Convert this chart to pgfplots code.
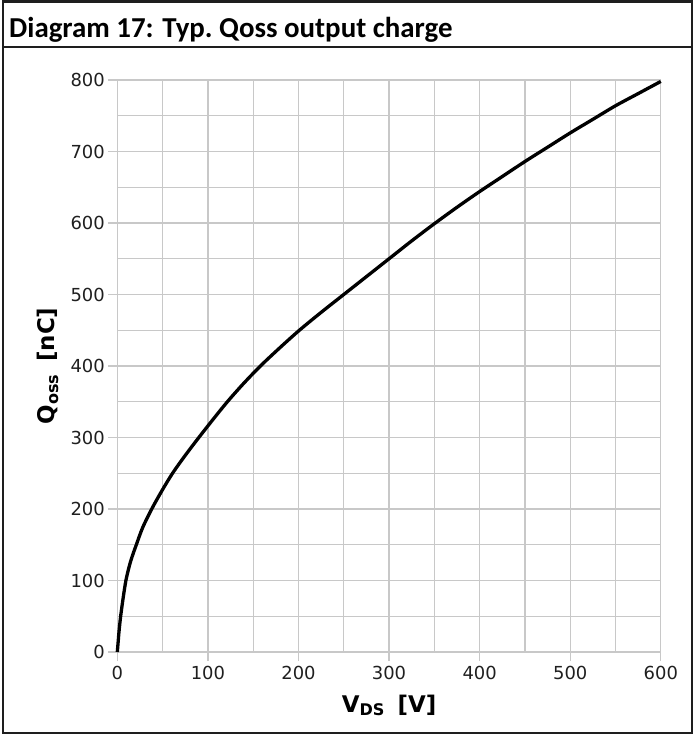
\documentclass[border=0pt]{standalone}
\usepackage{fontspec}
\setmainfont{DejaVu Sans}
\newfontfamily\titlefont{Carlito}
\usepackage{pgfplots}
\pgfplotsset{compat=1.18}
\definecolor{gridgray}{RGB}{200,200,200}
\definecolor{framec}{RGB}{30,30,30}
\begin{document}
\begin{tikzpicture}
\path[use as bounding box] (0,0) rectangle (695bp,-736bp);
\draw[line width=2bp, framec] (3bp,-1.5bp) rectangle (692bp,-733bp);
\draw[line width=2bp, framec] (3bp,-47bp) -- (692bp,-47bp);
\node[anchor=base west, inner sep=0pt, font=\titlefont\bfseries\fontsize{29}{32}\selectfont] at (9bp,-37bp) {Diagram 17: Typ.\ Qoss output charge};
\begin{axis}[
  at={(117.3bp,-652bp)}, anchor=south west,
  scale only axis, width=543.5bp, height=572bp,
  xmin=0, xmax=600, ymin=0, ymax=800,
  clip=false,
  axis line style={draw=none},
  xtick={0,100,...,600}, ytick={0,100,...,800},
  minor xtick={50,150,...,550}, minor ytick={50,150,...,750},
  xtick pos=bottom, ytick pos=left,
  tick align=outside,
  major tick length=9bp, minor tick length=0pt,
  tick style={gridgray, line width=1.3bp},
  grid=both,
  major grid style={gridgray, line width=1.3bp},
  minor grid style={gridgray, line width=1.3bp},
  /pgf/number format/assume math mode=true,
  ticklabel style={font=\fontsize{18}{21}\selectfont, text=black!88},
  xticklabel style={yshift=-2bp},
  yticklabel style={xshift=0bp},
  xlabel={\bfseries V\textsubscript{DS}\hspace{0.55em}[V]},
  ylabel={\bfseries Q\textsubscript{oss}\hspace{0.55em}[nC]},
  label style={font=\fontsize{23}{26}\selectfont, text=black},
  xlabel style={at={(axis description cs:0.5,0)}, anchor=base, yshift=-60bp},
  ylabel style={at={(axis description cs:-0.1159,0.5)}, anchor=base},
]
\addplot[black, line width=3.3bp, line join=round, smooth, tension=0.5] coordinates {
(0,0) (1,15) (2,30) (3.7,50) (6.5,76) (9.5,100) (13,119) (16,132) (21,150) (28,174) (38,200) (49,225) (61,250) (75,275) (90,300) (105.5,325) (121.5,350) (139,375) (158,400) (179,425) (201,450) (225,475) (250,500) (275,525) (300,550) (325,575) (350,599) (375,622) (400,644) (425,665) (450,686) (475,706) (500,726) (525,745) (550,764) (575,781) (600,798)
};
\end{axis}
\end{tikzpicture}
\end{document}
